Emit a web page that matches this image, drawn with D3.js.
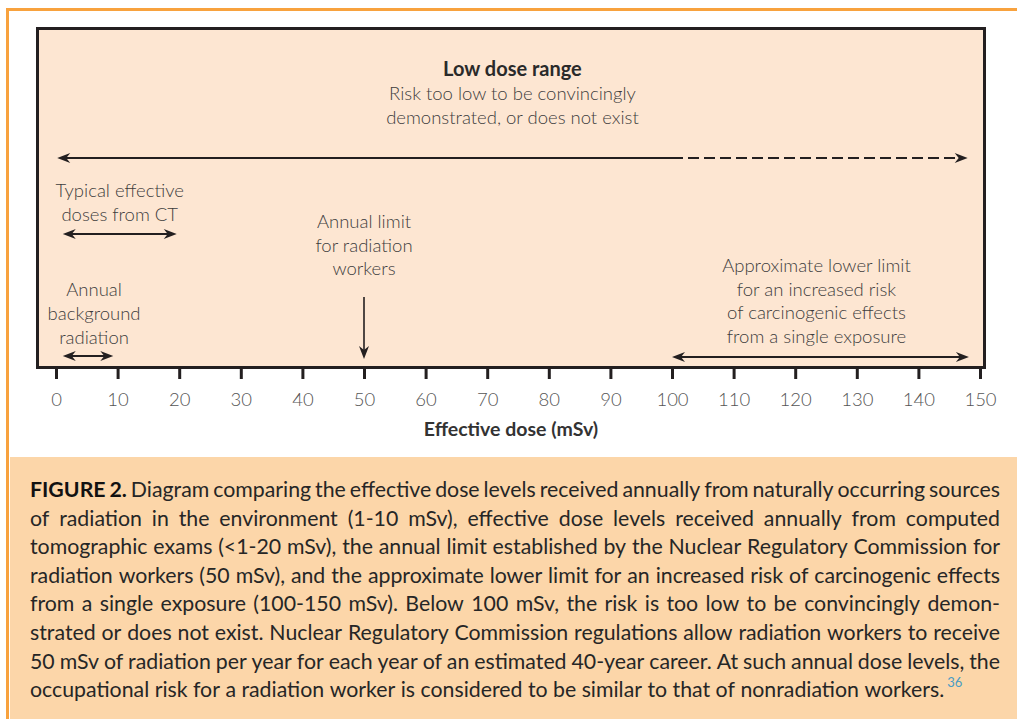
<!DOCTYPE html>
<html>
<head>
<meta charset="utf-8">
<script src="https://cdn.jsdelivr.net/npm/d3@7"></script>
<style>
  body { margin: 0; background: #fff; }
  svg { display: block; }
</style>
</head>
<body>
<svg id="chart" width="1017" height="719"></svg>
<script>
// dose axis ticks (mSv)
var ticks = [0, 10, 20, 30, 40, 50, 60, 70, 80, 90, 100, 110, 120, 130, 140, 150];

// horizontal range arrows, in mSv
var rangeNames = ['lowDose', 'ct', 'background', 'cancer'];
var rangeStart = [0.2, 1.1, 1.1, 100];
var rangeEnd   = [148, 19.6, 9.3, 148.2];
var rangeSolidTo = [100, 19.6, 9.3, 148.2];   // beyond this the line is dashed

// the annual worker limit, single pointer
var workerLimit = 50;

// annotation text
var lowDoseTitle = 'Low dose range';
var lowDoseLines = ['Risk too low to be convincingly', 'demonstrated, or does not exist'];
var ctLines = ['Typical effective', 'doses from CT'];
var backgroundLines = ['Annual', 'background', 'radiation'];
var workerLines = ['Annual limit', 'for radiation', 'workers'];
var cancerLines = ['Approximate lower limit', 'for an increased risk', 'of carcinogenic effects', 'from a single exposure'];
var axisTitle = 'Effective dose (mSv)';

var captionLines = [
  'FIGURE 2. Diagram comparing the effective dose levels received annually from naturally occurring sources',
  'of radiation in the environment (1-10 mSv), effective dose levels received annually from computed',
  'tomographic exams (<1-20 mSv), the annual limit established by the Nuclear Regulatory Commission for',
  'radiation workers (50 mSv), and the approximate lower limit for an increased risk of carcinogenic effects',
  'from a single exposure (100-150 mSv). Below 100 mSv, the risk is too low to be convincingly demon-',
  'strated or does not exist. Nuclear Regulatory Commission regulations allow radiation workers to receive',
  '50 mSv of radiation per year for each year of an estimated 40-year career. At such annual dose levels, the',
  'occupational risk for a radiation worker is considered to be similar to that of nonradiation workers.'
];
var captionRef = '36';

var ink = '#231f20';
var labelFont = 'Lato, "Open Sans", sans-serif';

var svg = d3.select('#chart');

// orange frame + caption panel
svg.append('rect').attr('x', 10).attr('y', 457).attr('width', 1007).attr('height', 262).attr('fill', '#fcd6a9');
svg.append('line').attr('x1', 6).attr('x2', 1017).attr('y1', 9.5).attr('y2', 9.5)
  .attr('stroke', '#f8a23e').attr('stroke-width', 3);
svg.append('line').attr('x1', 7.5).attr('x2', 7.5).attr('y1', 8).attr('y2', 719)
  .attr('stroke', '#f8a23e').attr('stroke-width', 3);

// chart box
svg.append('rect').attr('x', 37.5).attr('y', 28.5).attr('width', 947).attr('height', 339)
  .attr('fill', '#fde6d2').attr('stroke', ink).attr('stroke-width', 3);

var x = d3.scaleLinear().domain([0, 150]).range([56, 980]);

var axis = svg.append('g')
  .attr('transform', 'translate(0,368)')
  .call(d3.axisBottom(x).tickValues(ticks).tickSize(11).tickPadding(14).tickFormat(d3.format('d')));
axis.select('.domain').remove();
axis.selectAll('.tick line').attr('stroke', ink).attr('stroke-width', 3);
axis.selectAll('.tick text')
  .attr('font-family', labelFont).attr('font-size', 18.5).attr('font-weight', 300)
  .attr('fill', '#555');

svg.append('text').attr('x', 511).attr('y', 436).attr('text-anchor', 'middle')
  .attr('font-family', labelFont).attr('font-weight', 700).attr('font-size', 19.5)
  .attr('fill', '#333').text(axisTitle);

// arrowhead with swept-back base, tip at (tx,ty), pointing along dir
function head(g, tx, ty, dir) {
  var L = 13, H = 5, back = 9;
  var p;
  if (dir === 'left')  p = [[tx, ty], [tx + L, ty - H], [tx + back, ty], [tx + L, ty + H]];
  if (dir === 'right') p = [[tx, ty], [tx - L, ty - H], [tx - back, ty], [tx - L, ty + H]];
  if (dir === 'down')  p = [[tx, ty], [tx - H, ty - L], [tx, ty - back], [tx + H, ty - L]];
  g.append('path').attr('d', 'M' + p.join('L') + 'Z').attr('fill', ink);
}

var rangeY = { lowDose: 158, ct: 234, background: 356, cancer: 357 };
var arrows = svg.append('g');
rangeNames.forEach(function(n, i) {
  var y = rangeY[n];
  var x0 = x(rangeStart[i]), x1 = x(rangeEnd[i]), xs = x(rangeSolidTo[i]);
  arrows.append('line').attr('x1', x0 + 6).attr('x2', Math.min(xs, x1 - 6)).attr('y1', y).attr('y2', y)
    .attr('stroke', ink).attr('stroke-width', 2.2);
  if (xs < x1) {
    arrows.append('line').attr('x1', xs).attr('x2', x1 - 6).attr('y1', y).attr('y2', y)
      .attr('stroke', ink).attr('stroke-width', 2.2).attr('stroke-dasharray', '11,5');
  }
  head(arrows, x0, y, 'left');
  head(arrows, x1, y, 'right');
});

// worker limit pointer
arrows.append('line').attr('x1', x(workerLimit)).attr('x2', x(workerLimit))
  .attr('y1', 297).attr('y2', 353).attr('stroke', ink).attr('stroke-width', 1.6);
head(arrows, x(workerLimit), 359, 'down');

function block(lines, cx, firstBaseline, opts) {
  opts = opts || {};
  var t = svg.append('text').attr('text-anchor', 'middle')
    .attr('font-family', labelFont).attr('font-size', opts.size || 18.5)
    .attr('font-weight', opts.weight || 300).attr('fill', opts.fill || '#3d3d3d');
  lines.forEach(function(s, i) {
    t.append('tspan').attr('x', cx).attr('y', firstBaseline + i * (opts.lead || 24)).text(s);
  });
  return t;
}

var mid = function(i) { return x((rangeStart[i] + rangeEnd[i]) / 2); };
block([lowDoseTitle], mid(0), 76, { weight: 700, fill: '#2a2a2a', size: 20 });
block(lowDoseLines, mid(0), 100, { lead: 23.5 });
block(ctLines, mid(1), 197);
block(backgroundLines, mid(2) + 6, 296);
block(workerLines, x(workerLimit), 228, { lead: 23.5 });
block(cancerLines, mid(3) - 4, 272, { lead: 23.7 });

// caption, justified word by word
var capLeft = 30, capRight = 1000, capTop = 497, capLead = 28.6, capSize = 21.3;
var cap = svg.append('g').attr('font-family', labelFont).attr('font-size', capSize).attr('fill', '#262626');
var probe = cap.append('text').attr('visibility', 'hidden');
function wordWidth(w, bold) {
  probe.attr('font-weight', bold ? 700 : 400).text(w);
  return probe.node().getComputedTextLength();
}
var spaceW = wordWidth('a a') - wordWidth('aa');

captionLines.forEach(function(line, li) {
  var words = line.split(' ');
  var bold = words.map(function(w, k) { return li === 0 && k < 2; });
  var widths = words.map(function(w, k) { return wordWidth(w, bold[k]); });
  var total = d3.sum(widths);
  var last = li === captionLines.length - 1;
  var gap = last ? spaceW : (capRight - capLeft - total) / (words.length - 1);
  var y = capTop + li * capLead;
  var t = cap.append('text').attr('y', y);
  var cx = capLeft;
  words.forEach(function(w, k) {
    t.append('tspan').attr('x', cx).attr('font-weight', bold[k] ? 700 : 400)
      .attr('fill', bold[k] ? '#111' : null).text(w);
    cx += widths[k] + gap;
  });
  if (last) {
    t.append('tspan').attr('x', cx - gap + 3).attr('dy', -10).attr('font-size', 13)
      .attr('fill', '#4a9cc4').text(captionRef);
  }
});
probe.remove();
</script>
</body>
</html>
